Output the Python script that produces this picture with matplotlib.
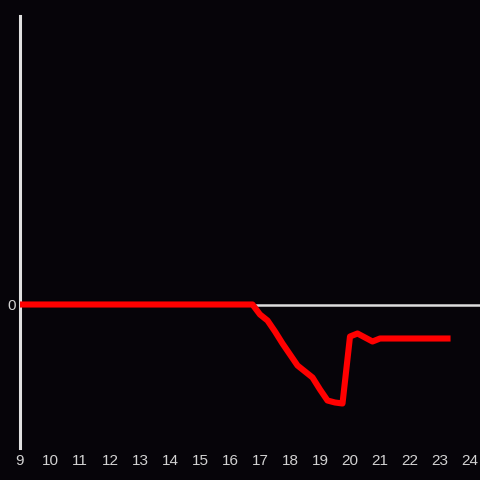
import matplotlib
matplotlib.use("Agg")
import matplotlib.pyplot as plt

hours = [9.0, 16.75, 17.0, 17.25, 17.5, 17.75, 18.0, 18.25, 18.5, 18.75, 19.0,
         19.25, 19.5, 19.75, 20.0, 20.25, 20.5, 20.75, 21.0, 21.25, 21.5,
         21.75, 22.0, 22.25, 22.5, 22.75, 23.0, 23.25]
values = [0, 0, -10, -16, -27, -39, -50, -61, -67, -73, -85,
          -96, -98, -99, -32, -29, -33, -37, -34, -34, -34,
          -34, -34, -34, -34, -34, -34, -34]
xticks = list(range(9, 25))
yticks = [0]

bg = '#060409'
fig = plt.figure(figsize=(4.8, 4.8), dpi=100, facecolor=bg)
ax = fig.add_axes([20/480, 32/480, 460/480, 432/480], facecolor=bg)

ax.axhline(0, color='#dddddd', lw=1.8, zorder=1)
ax.plot(hours, values, color='#ff0000', lw=4.4, solid_capstyle='projecting',
        solid_joinstyle='round', zorder=3)

ax.set_xlim(9, 9 + 460/30)
ax.set_ylim(-143.5, 288.5)
ax.set_xticks(xticks)
ax.set_xticklabels([str(t) for t in xticks])
ax.set_yticks(yticks)
ax.set_yticklabels(['0'])
for s in ['top', 'right', 'bottom']:
    ax.spines[s].set_visible(False)
ax.spines['left'].set_color('#e0e0e0')
ax.spines['left'].set_linewidth(2.2)
ax.tick_params(axis='both', length=0, colors='#d2d2d2', labelsize=11)
ax.tick_params(axis='x', pad=4.5)
ax.tick_params(axis='y', pad=3)
for lab in ax.get_xticklabels() + ax.get_yticklabels():
    lab.set_fontfamily('Liberation Sans')

fig.savefig('out.png', dpi=100, facecolor=bg)
